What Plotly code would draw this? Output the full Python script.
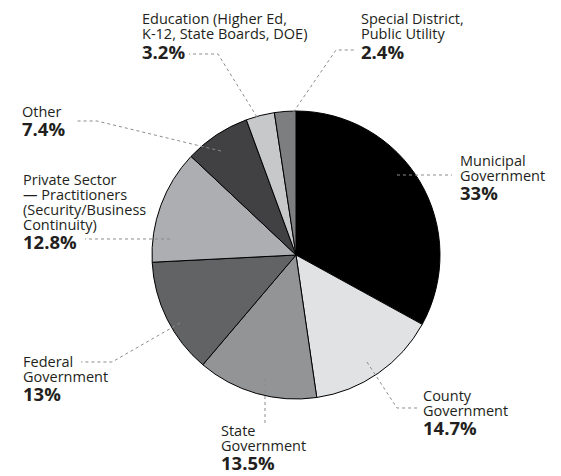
import plotly.graph_objects as go

# ---- data ----
categories = ["Municipal Government", "County Government", "State Government",
              "Federal Government", "Private Sector — Practitioners (Security/Business Continuity)",
              "Other", "Education (Higher Ed, K-12, State Boards, DOE)",
              "Special District, Public Utility"]
values = [33, 14.7, 13.5, 13, 12.8, 7.4, 3.2, 2.4]
label_lines = [
    ["Municipal", "Government"],
    ["County", "Government"],
    ["State", "Government"],
    ["Federal", "Government"],
    ["Private Sector", "— Practitioners", "(Security/Business", "Continuity)"],
    ["Other"],
    ["Education (Higher Ed,", "K-12, State Boards, DOE)"],
    ["Special District,", "Public Utility"],
]
colors = ["#000000", "#e1e2e3", "#939496", "#626365", "#adaeb1", "#414042", "#c7c8ca", "#7d7e80"]

# ---- layout constants (pixels) ----
W, H = 561, 476
CX, CY, R = 296, 255, 144
label_pos = [(459, 160), (422, 395), (220, 430), (22, 361), (22, 179), (21, 111), (141, 19), (360, 19)]
LINE_STEP = 15
PCT_GAP = 17.5
leaders = [
    [(397, 175), (452, 175)],
    [(367, 362), (397, 408), (417, 408)],
    [(265, 378), (265, 426)],
    [(180, 323), (112, 362), (81, 362)],
    [(170, 239), (85, 239)],
    [(221, 151), (97, 121), (77, 121)],
    [(257, 117), (218, 54), (189, 54)],
    [(290, 117), (336, 50), (354, 50)],
]

def px(x):
    return x / W

def py(y):
    return 1 - y / H

FONT = "Open Sans"
TXT = "#231f20"

fig = go.Figure(go.Pie(
    labels=categories, values=values, sort=False, direction="clockwise", rotation=0,
    marker=dict(colors=colors, line=dict(color="#000000", width=1)),
    textinfo="none", hoverinfo="label+percent", showlegend=False,
    domain=dict(x=[px(CX - R), px(CX + R)], y=[py(CY + R), py(CY - R)]),
))

annotations = []
for lines, v, (lx, ly) in zip(label_lines, values, label_pos):
    for i, t in enumerate(lines):
        annotations.append(dict(x=px(lx), y=py(ly + i * LINE_STEP), xref="paper", yref="paper",
                                text=t, showarrow=False, xanchor="left", yanchor="middle",
                                borderpad=0,
                                font=dict(family=FONT, size=14.5, color=TXT)))
    pct_y = ly + (len(lines) - 1) * LINE_STEP + PCT_GAP
    annotations.append(dict(x=px(lx), y=py(pct_y), xref="paper", yref="paper",
                            text=f"<b>{v:g}%</b>", showarrow=False, xanchor="left", yanchor="middle",
                            borderpad=0,
                            font=dict(family=FONT, size=18.5, color=TXT)))

shapes = []
for pts in leaders:
    path = "M " + " L ".join(f"{px(x):.5f},{py(y):.5f}" for x, y in pts)
    shapes.append(dict(type="path", path=path, xref="paper", yref="paper",
                       line=dict(color="#8c8c8c", width=1, dash="dot")))

fig.update_layout(width=W, height=H, margin=dict(l=0, r=0, t=0, b=0),
                  paper_bgcolor="white", plot_bgcolor="white",
                  annotations=annotations, shapes=shapes)

fig.write_html("out.html", config={"displayModeBar": False},
               post_script="document.body.style.margin='0';")
